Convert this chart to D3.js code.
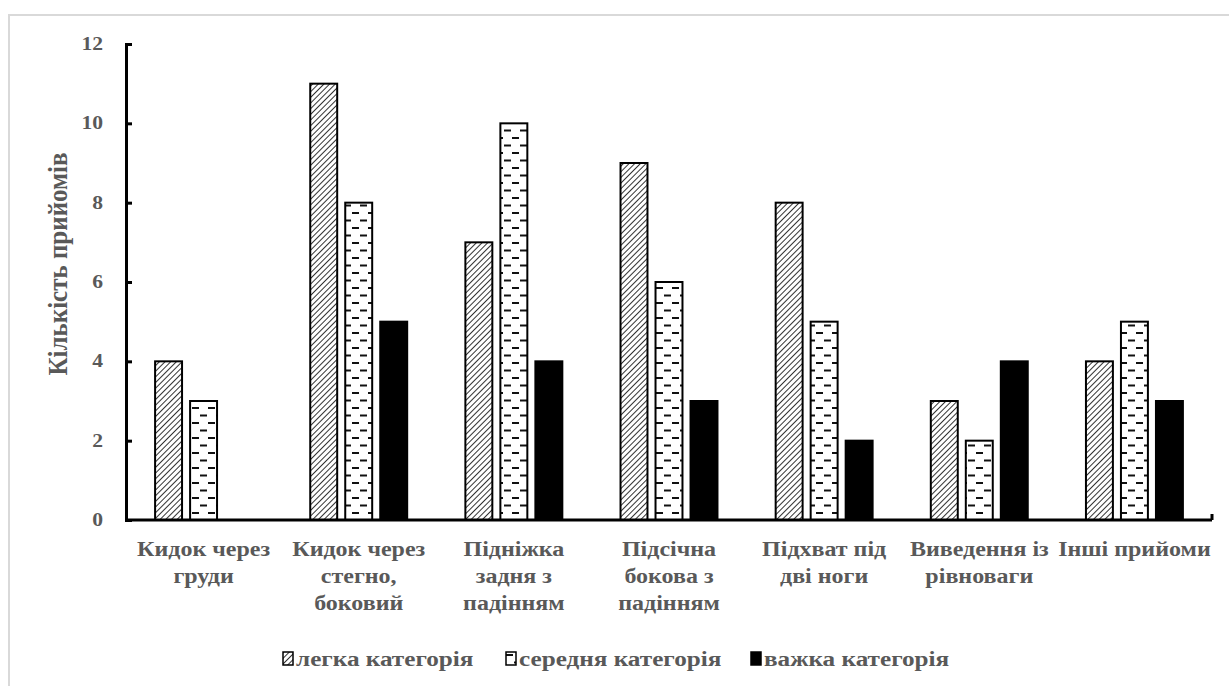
<!DOCTYPE html>
<html>
<head>
<meta charset="utf-8">
<script src="https://cdn.jsdelivr.net/npm/d3@7"></script>
<style>
body { margin: 0; background: #fff; }
svg text { font-family: "Liberation Serif", "Times New Roman", serif; font-weight: bold; fill: #595959; }
</style>
</head>
<body>
<div id="content"></div>
<script>
// Chart size
var width = 1229;
var height = 686;

// Plot area
var plotLeft = 126;
var plotTop = 44;
var plotWidth = 1086;
var plotHeight = 476;

// The text in the picture is a bit wider than Times, stretch it
var stretch = 1.2;

// Data
var categories = [
  ["Кидок через", "груди"],
  ["Кидок через", "стегно,", "боковий"],
  ["Підніжка", "задня з", "падінням"],
  ["Підсічна", "бокова з", "падінням"],
  ["Підхват під", "дві ноги"],
  ["Виведення із", "рівноваги"],
  ["Інші прийоми"]
];
var seriesNames = ["легка категорія", "середня категорія", "важка категорія"];
var lightValues = [4, 11, 7, 9, 8, 3, 4];
var mediumValues = [3, 8, 10, 6, 5, 2, 5];
var heavyValues = [0, 5, 4, 3, 2, 4, 3];
var yTicks = [0, 2, 4, 6, 8, 10, 12];

var series = [lightValues, mediumValues, heavyValues];
var fills = ["url(#hatch)", "url(#dashes)", "#000"];

var svg = d3.select("#content")
.append("svg")
.attr("width", width)
.attr("height", height);

// Patterns
var defs = svg.append("defs");
var hatch = defs.append("pattern")
.attr("id", "hatch")
.attr("patternUnits", "userSpaceOnUse")
.attr("width", 4)
.attr("height", 4)
.attr("patternTransform", "rotate(45)");
hatch.append("rect").attr("width", 4).attr("height", 4).attr("fill", "#fff");
hatch.append("line")
.attr("x1", 0).attr("y1", 0).attr("x2", 0).attr("y2", 4)
.attr("stroke", "#333")
.attr("stroke-width", 2);

var dashes = defs.append("pattern")
.attr("id", "dashes")
.attr("patternUnits", "userSpaceOnUse")
.attr("width", 16)
.attr("height", 15);
dashes.append("rect").attr("width", 16).attr("height", 15).attr("fill", "#fff");
dashes.append("rect").attr("x", 0).attr("y", 2).attr("width", 7).attr("height", 2).attr("fill", "#111");
dashes.append("rect").attr("x", 8).attr("y", 9.5).attr("width", 7).attr("height", 2).attr("fill", "#111");

// Outer frame
svg.append("rect")
.attr("x", 9)
.attr("y", 15)
.attr("width", 1240)
.attr("height", 700)
.style("fill", "none")
.style("stroke", "#d9d9d9")
.style("stroke-width", 2);

// Scales
var x = d3.scaleBand()
.domain(d3.range(categories.length))
.range([plotLeft, plotLeft + plotWidth]);

var xInner = d3.scaleBand()
.domain(d3.range(series.length))
.range([0, 105])
.paddingInner(0.23)
.paddingOuter(0.115);

var y = d3.scaleLinear()
.domain([0, 12])
.range([plotTop + plotHeight, plotTop]);

// Bars (zero values are not drawn)
for(var s = 0; s < series.length; s++){
  var barData = series[s].map(function(v, i){ return {cat: i, value: v}; })
  .filter(function(d){ return d.value > 0; });
  svg.append("g")
  .selectAll("rect")
  .data(barData)
  .enter()
  .append("rect")
  .attr("x", function(d){ return x(d.cat) + x.bandwidth()/2 - 52.5 + xInner(s); })
  .attr("y", function(d){ return y(d.value); })
  .attr("width", xInner.bandwidth())
  .attr("height", function(d){ return y(0) - y(d.value); })
  .style("fill", fills[s])
  .style("stroke", "#000")
  .style("stroke-width", 2);
}

// Y axis
var yAxis = svg.append("g")
.attr("transform", "translate(" + plotLeft + ",0)")
.call(d3.axisRight(y).tickValues(yTicks).tickSize(6).tickFormat(""));
yAxis.select(".domain").attr("stroke", "#000").attr("stroke-width", 3);
yAxis.selectAll(".tick line").attr("stroke", "#000").attr("stroke-width", 3);

svg.append("g")
.selectAll("text")
.data(yTicks)
.enter()
.append("text")
.attr("transform", function(d){ return "translate(103," + (y(d) + 6) + ") scale(" + stretch + ",1)"; })
.attr("text-anchor", "end")
.style("font-size", "18px")
.text(function(d){ return d; });

// X axis
svg.append("line")
.attr("x1", plotLeft)
.attr("x2", plotLeft + plotWidth)
.attr("y1", y(0))
.attr("y2", y(0))
.attr("stroke", "#000")
.attr("stroke-width", 3);
svg.append("line")
.attr("x1", plotLeft + plotWidth)
.attr("x2", plotLeft + plotWidth)
.attr("y1", y(0))
.attr("y2", y(0) - 6)
.attr("stroke", "#000")
.attr("stroke-width", 3);

// Category labels
var catLabels = svg.append("g")
.selectAll("text")
.data(categories)
.enter()
.append("text")
.attr("text-anchor", "middle")
.attr("transform", function(d, i){ return "translate(" + (x(i) + x.bandwidth()/2) + ",556) scale(" + stretch + ",1)"; })
.style("font-size", "20px");
catLabels.selectAll("tspan")
.data(function(d){ return d; })
.enter()
.append("tspan")
.attr("x", 0)
.attr("dy", function(d, i){ return i == 0 ? 0 : 27; })
.text(function(d){ return d; });

// Axis title
svg.append("text")
.attr("transform", "translate(67,264) scale(1.1,1) rotate(-90)")
.attr("text-anchor", "middle")
.style("font-size", "25px")
.text("Кількість прийомів");

// Legend
var legendX = [283, 506, 751];
var legend = svg.append("g")
.selectAll("g")
.data(seriesNames)
.enter()
.append("g")
.attr("transform", function(d, i){ return "translate(" + legendX[i] + ",652)"; });
legend.append("rect")
.attr("width", 10)
.attr("height", 13)
.style("fill", function(d, i){ return fills[i]; })
.style("stroke", "#000")
.style("stroke-width", 1.5);
legend.append("text")
.attr("transform", "translate(13,14) scale(" + stretch + ",1)")
.style("font-size", "21px")
.text(function(d){ return d; });
</script>
</body>
</html>
